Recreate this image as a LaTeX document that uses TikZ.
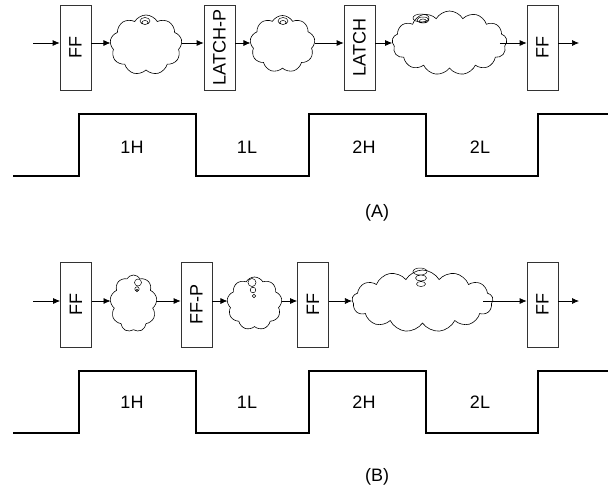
\documentclass[tikz,border=0pt]{standalone}
\usepackage{fontspec}
\setmainfont{Liberation Sans}
\usepackage{tikz}
\usetikzlibrary{arrows.meta,shapes.symbols}
\definecolor{cLinha}{HTML}{333333}

\begin{document}
\begin{tikzpicture}[
  x=1pt,y=-1pt,font=\fontsize{18}{20}\selectfont,
  reg/.style={draw=cLinha,line width=0.7pt,minimum width=31pt,minimum height=85pt,inner sep=0pt},
  nuvem/.style={cloud,cloud puffs=9,cloud puff arc=120,cloud ignores aspect,draw=black,
                line width=0.6pt,inner sep=0pt},
  ar/.style={-{Latex[length=7pt,width=6pt]},draw=black,line width=0.7pt},
  clk/.style={draw=black,line width=1.6pt},
  lbl/.style={inner sep=0pt}
]
\useasboundingbox (0,0) rectangle (613,493);

% ---- (A): caminho com latches
\coordinate (ya) at (0,43);
\coordinate (inA) at (33,43);
\coordinate (outA) at (579,43);
\node[reg] (fa1) at (75.5,47.5)  {\rotatebox{90}{FF}};
\node[nuvem,minimum width=72pt,minimum height=60pt]  (na1) at (146,45)   {};
\node[reg] (fa2) at (219.5,47.5) {\rotatebox{90}{LATCH-P}};
\node[nuvem,minimum width=65pt,minimum height=57pt]  (na2) at (282.5,44) {};
\node[reg] (fa3) at (359.5,47.5) {\rotatebox{90}{LATCH}};
\node[nuvem,cloud puffs=13,minimum width=115pt,minimum height=64pt] (na3) at (449.5,43) {};
\node[reg] (fa4) at (542.5,47.5) {\rotatebox{90}{FF}};

% bolhas sobre as nuvens
\draw[line width=0.5pt] (145,21) ellipse (5 and 3.5) (145,22.5) ellipse (3 and 2);
\draw[line width=0.5pt] (283,21) ellipse (5 and 3.5) (283,22.5) ellipse (3 and 2);
\draw[line width=0.5pt] (421,18) ellipse (8 and 4) (423,20) ellipse (6 and 3) (423,21) ellipse (3.5 and 2);

\draw[ar] (inA) -- (fa1.west |- ya);
\draw[ar] (fa1.east |- ya) -- (na1.west |- ya);
\draw[ar] (na1.east |- ya) -- (fa2.west |- ya);
\draw[ar] (fa2.east |- ya) -- (na2.west |- ya);
\draw[ar] (na2.east |- ya) -- (fa3.west |- ya);
\draw[ar] (fa3.east |- ya) -- (na3.west |- ya);
\draw[ar] ([xshift=-7pt]na3.east |- ya) -- (fa4.west |- ya);
\draw[ar] (fa4.east |- ya) -- (outA);

% ---- relogio (A)
\draw[clk] (13,176) -- (79,176) -- (79,114) -- (196,114) -- (196,176) -- (309,176)
  -- (309,114) -- (426,114) -- (426,176) -- (538,176) -- (538,114) -- (608,114);
\node[lbl] (a1h) at (132,147) {1H};
\node[lbl] (a1l) at (247,147) {1L};
\node[lbl] (a2h) at (364,147) {2H};
\node[lbl] (a2l) at (480,147) {2L};
\node[lbl] (capA) at (377,213) {(A)};

% ---- (B): caminho com flip-flops
\coordinate (yb) at (0,301);
\coordinate (inB) at (33,301);
\coordinate (outB) at (579,301);
\node[reg] (fb1) at (76,304.5)    {\rotatebox{90}{FF}};
\node[nuvem,minimum width=47pt,minimum height=57pt]  (nb1) at (133.5,303.5) {};
\node[reg] (fb2) at (196.5,304.5) {\rotatebox{90}{FF-P}};
\node[nuvem,minimum width=55pt,minimum height=53pt]  (nb2) at (254.5,303.5) {};
\node[reg] (fb3) at (313,304.5)   {\rotatebox{90}{FF}};
\node[nuvem,cloud puffs=13,minimum width=141pt,minimum height=62pt] (nb3) at (422.5,301) {};
\node[reg] (fb4) at (542.5,304.5) {\rotatebox{90}{FF}};

% bolhas sobre as nuvens
\draw[line width=0.5pt] (138,282.5) circle (3.5) (137,289) circle (2.2) (137,290.5) circle (1.2);
\draw[line width=0.5pt] (252,282.5) circle (4) (253,290) circle (2.8) (254,296) circle (1.8);
\draw[line width=0.5pt] (420,271.5) ellipse (7 and 3.5) (421,278) ellipse (5.5 and 3) (421,284) ellipse (4.5 and 2.5);

\draw[ar] (inB) -- (fb1.west |- yb);
\draw[ar] (fb1.east |- yb) -- (nb1.west |- yb);
\draw[ar] (nb1.east |- yb) -- (fb2.west |- yb);
\draw[ar] (fb2.east |- yb) -- (nb2.west |- yb);
\draw[ar] (nb2.east |- yb) -- (fb3.west |- yb);
\draw[ar] (fb3.east |- yb) -- (nb3.west |- yb);
\draw[ar] ([xshift=-10pt]nb3.east |- yb) -- (fb4.west |- yb);
\draw[ar] (fb4.east |- yb) -- (outB);

% ---- relogio (B)
\draw[clk] (13,433) -- (79,433) -- (79,371) -- (196,371) -- (196,433) -- (309,433)
  -- (309,371) -- (426,371) -- (426,433) -- (538,433) -- (538,371) -- (608,371);
\node[lbl] (b1h) at (132,402) {1H};
\node[lbl] (b1l) at (247,402) {1L};
\node[lbl] (b2h) at (364,402) {2H};
\node[lbl] (b2l) at (480,402) {2L};
\node[lbl] (capB) at (377,477) {(B)};
\end{tikzpicture}
\end{document}
